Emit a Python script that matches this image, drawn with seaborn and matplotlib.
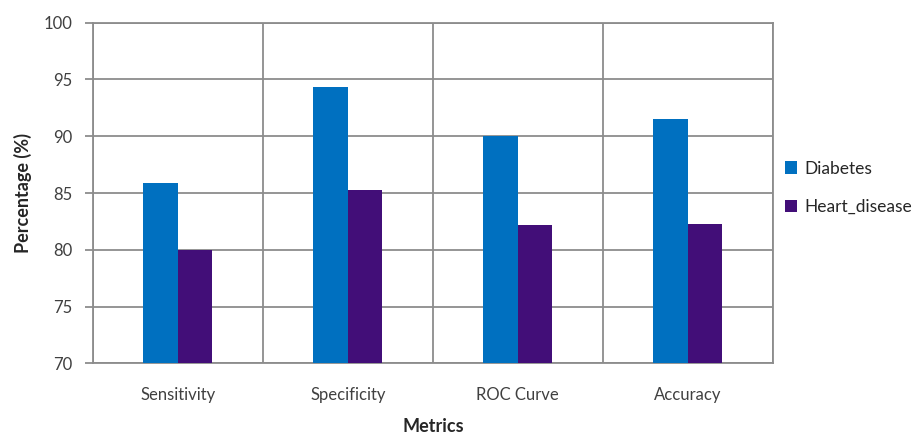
import matplotlib
matplotlib.use("Agg")
import matplotlib.pyplot as plt
from matplotlib.ticker import FixedLocator, MultipleLocator
import seaborn as sns
import pandas as pd

metrics = ["Sensitivity", "Specificity", "ROC Curve", "Accuracy"]
diabetes = [85.9, 94.3, 90.0, 91.5]
heart_disease = [80.0, 85.3, 82.2, 82.3]
series_names = ["Diabetes", "Heart_disease"]

df = pd.DataFrame({
    "Metric": metrics * 2,
    "Value": diabetes + heart_disease,
    "Series": [series_names[0]] * len(metrics) + [series_names[1]] * len(metrics),
})

sns.set_theme(style="white")
plt.rcParams["font.family"] = ["Lato", "DejaVu Sans"]

fig = plt.figure(figsize=(9.22, 4.38), dpi=100)
ax = fig.add_axes([0.1009, 0.1705, 0.7371, 0.7777])

palette = {"Diabetes": "#0070C0", "Heart_disease": "#420E78"}
sns.barplot(data=df, x="Metric", y="Value", hue="Series", palette=palette,
            width=0.406, gap=0, saturation=1, ax=ax, zorder=3, edgecolor="none")

grid_color = "#8c8c8c"
ax.set_ylim(70, 100)
ax.set_xlim(-0.5, len(metrics) - 0.5)
ax.yaxis.set_major_locator(MultipleLocator(5))
ax.xaxis.set_minor_locator(FixedLocator([i + 0.5 for i in range(-1, len(metrics))]))
ax.grid(axis="y", which="major", color=grid_color, linewidth=1.3, zorder=0)
ax.grid(axis="x", which="minor", color=grid_color, linewidth=1.3, zorder=0)
ax.set_axisbelow(True)

for s in ax.spines.values():
    s.set_color(grid_color)
    s.set_linewidth(1.3)

ax.tick_params(axis="y", which="major", length=6, width=1.3, color=grid_color,
               labelsize=12, labelcolor="#404040", pad=9, left=True)
ax.tick_params(axis="x", which="both", length=0, labelsize=12,
               labelcolor="#404040", pad=17)

ax.set_ylabel("Percentage (%)", fontsize=13, fontweight="bold", color="#262626", labelpad=8)
ax.set_xlabel("Metrics", fontsize=13, fontweight="bold", color="#262626", labelpad=11)

ax.legend(loc="center left", bbox_to_anchor=(1.0, 0.515), frameon=False,
          fontsize=12.5, handlelength=0.7, handleheight=0.7, handletextpad=0.4,
          labelspacing=1.3, borderaxespad=0.3, labelcolor="#262626")

fig.savefig("out.png", dpi=100)
